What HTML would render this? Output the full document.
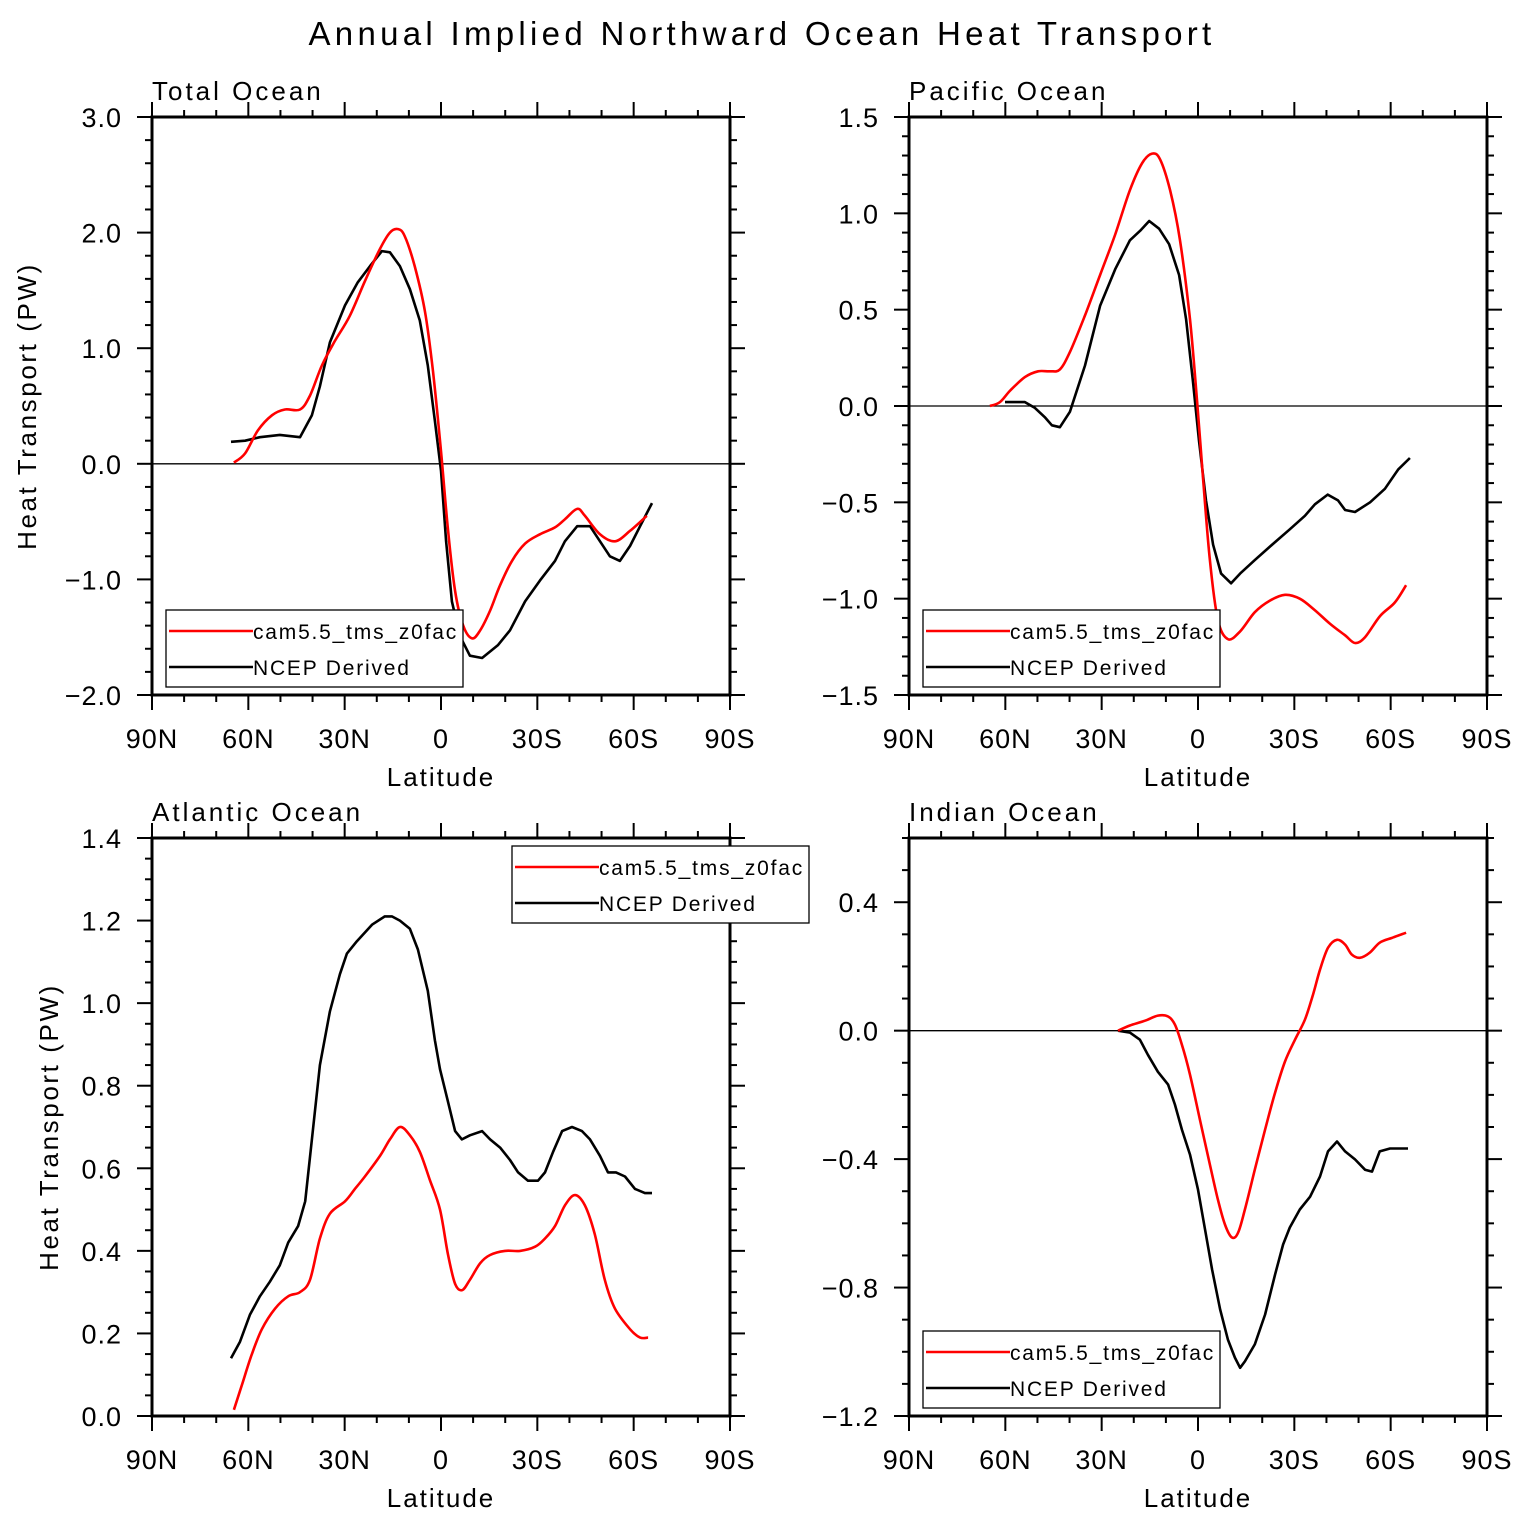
<!DOCTYPE html>
<html><head><meta charset="utf-8"><style>
body{margin:0;background:#fff}
svg{display:block;font-family:"Liberation Sans","DejaVu Sans",sans-serif}
</style></head><body>
<svg id="chart" width="1524" height="1527" viewBox="0 0 1524 1527" xmlns="http://www.w3.org/2000/svg">
<text x="762" y="45" text-anchor="middle" font-size="33" letter-spacing="4.3">Annual Implied Northward Ocean Heat Transport</text>
</svg>
<script>
// ---- data ----
const xTickLabels = ["90N","60N","30N","0","30S","60S","90S"];
const xTickLats = [90,60,30,0,-30,-60,-90];

const totalRedLat = [64.5,61.0,57.0,52.6,48.6,43.9,40.8,37.1,33.1,28.4,23.7,19.0,15.9,13.4,11.3,8.2,5.0,2.5,0,-2.2,-4.4,-6.9,-9.7,-12.2,-15.3,-18.4,-22.1,-26.2,-30.8,-35.5,-38.6,-42.4,-44.8,-49.5,-54.2,-58.9,-64.1];
const totalRedVal = [0.01,0.09,0.29,0.42,0.47,0.47,0.59,0.85,1.06,1.28,1.58,1.86,2.00,2.03,1.97,1.71,1.32,0.80,0.11,-0.58,-1.10,-1.40,-1.51,-1.44,-1.27,-1.05,-0.84,-0.69,-0.61,-0.55,-0.48,-0.39,-0.45,-0.61,-0.67,-0.58,-0.45];
const totalBlkLat = [65.4,61.0,56.4,50.2,43.9,40.2,37.7,34.6,29.9,25.9,22.1,18.4,15.9,12.8,9.7,6.6,4.1,1.9,0,-1.6,-3.4,-5.9,-9.0,-12.8,-17.7,-21.5,-26.2,-30.8,-35.5,-38.6,-42.4,-46.4,-49.5,-52.6,-55.7,-58.9,-62.0,-65.7];
const totalBlkVal = [0.19,0.20,0.23,0.25,0.23,0.42,0.67,1.05,1.37,1.57,1.71,1.84,1.83,1.71,1.51,1.24,0.85,0.37,-0.06,-0.67,-1.19,-1.49,-1.66,-1.68,-1.57,-1.44,-1.19,-1.01,-0.84,-0.67,-0.54,-0.54,-0.67,-0.80,-0.84,-0.71,-0.54,-0.34];

const pacRedLat = [64.8,61.7,58.5,53.9,49.8,46.1,43.0,39.9,35.2,30.5,25.8,21.2,17.4,14.3,11.8,8.7,5.6,2.5,0.3,-1.6,-3.7,-6.2,-9.3,-13.1,-17.7,-22.4,-27.1,-31.7,-36.4,-41.1,-45.8,-48.9,-52.0,-56.7,-61.3,-64.8];
const pacRedVal = [0,0.02,0.08,0.15,0.18,0.18,0.19,0.28,0.47,0.68,0.89,1.12,1.26,1.31,1.28,1.12,0.86,0.45,0.03,-0.38,-0.80,-1.11,-1.21,-1.17,-1.07,-1.01,-0.98,-1.00,-1.06,-1.13,-1.19,-1.23,-1.20,-1.09,-1.02,-0.93];
const pacBlkLat = [60.1,53.9,50.8,47.6,45.5,43.0,39.9,35.2,30.5,25.8,21.2,18.0,15.2,12.1,9.0,5.9,3.7,1.6,-0.3,-2.5,-4.7,-7.2,-10.3,-13.1,-17.7,-22.4,-28.6,-33.3,-36.4,-40.4,-43.6,-45.8,-48.9,-53.6,-58.2,-62.3,-66.0];
const pacBlkVal = [0.02,0.02,-0.01,-0.06,-0.10,-0.11,-0.03,0.21,0.52,0.71,0.86,0.91,0.96,0.92,0.84,0.68,0.45,0.13,-0.18,-0.49,-0.72,-0.87,-0.92,-0.87,-0.80,-0.73,-0.64,-0.57,-0.51,-0.46,-0.49,-0.54,-0.55,-0.50,-0.43,-0.33,-0.27];

const atlRedLat = [64.5,62.0,58.9,55.8,51.7,47.6,43.9,40.8,37.7,34.6,29.9,26.8,23.7,19.0,15.9,12.8,9.7,6.6,3.4,0.3,-2.2,-4.4,-6.6,-9.0,-12.2,-15.3,-19.9,-24.6,-29.3,-32.4,-35.5,-38.6,-41.7,-44.8,-47.9,-51.0,-54.2,-58.9,-62.0,-64.5];
const atlRedVal = [0.015,0.075,0.15,0.21,0.26,0.29,0.30,0.33,0.43,0.49,0.52,0.55,0.58,0.63,0.67,0.70,0.68,0.64,0.57,0.50,0.39,0.32,0.305,0.33,0.37,0.39,0.40,0.40,0.41,0.43,0.46,0.51,0.535,0.51,0.44,0.33,0.26,0.21,0.19,0.19];
const atlBlkLat = [65.4,62.6,59.5,56.4,53.3,50.2,47.6,44.5,42.3,40.2,37.7,34.6,31.5,29.3,26.2,21.5,17.5,15.3,12.8,9.7,7.2,4.1,1.9,0.3,-1.9,-4.4,-6.5,-9.0,-12.8,-15.3,-18.4,-21.5,-24.0,-27.1,-30.2,-32.4,-34.9,-37.7,-40.8,-43.9,-46.4,-49.5,-52.0,-54.5,-57.3,-60.4,-63.5,-65.7];
const atlBlkVal = [0.14,0.18,0.245,0.29,0.325,0.365,0.42,0.46,0.52,0.67,0.85,0.98,1.07,1.12,1.15,1.19,1.21,1.21,1.20,1.18,1.13,1.03,0.91,0.84,0.77,0.69,0.67,0.68,0.69,0.67,0.65,0.62,0.59,0.57,0.57,0.59,0.64,0.69,0.70,0.69,0.67,0.63,0.59,0.59,0.58,0.55,0.54,0.54];

const indRedLat = [24.9,21.2,16.5,12.5,9.3,7.2,5.0,2.5,-0.6,-3.7,-6.2,-8.4,-10.6,-12.5,-14.6,-17.7,-20.9,-24.0,-27.1,-30.2,-33.3,-35.8,-38.0,-40.5,-43.3,-45.8,-47.9,-50.4,-53.5,-56.6,-60.4,-64.8];
const indRedVal = [0,0.016,0.031,0.047,0.044,0.019,-0.044,-0.137,-0.277,-0.417,-0.526,-0.604,-0.644,-0.629,-0.557,-0.433,-0.308,-0.193,-0.096,-0.028,0.034,0.112,0.19,0.258,0.283,0.268,0.237,0.227,0.243,0.274,0.289,0.305];
const indBlkLat = [24.9,21.2,18.1,15.6,12.5,9.3,7.2,5.0,2.5,0,-2.2,-4.4,-6.9,-9.3,-11.5,-13.1,-14.6,-17.7,-20.9,-24.0,-26.5,-28.6,-31.7,-34.9,-38.0,-40.5,-43.3,-45.8,-48.9,-52.0,-54.2,-56.6,-59.8,-65.4];
const indBlkVal = [0,-0.006,-0.028,-0.075,-0.128,-0.168,-0.23,-0.308,-0.386,-0.495,-0.62,-0.744,-0.869,-0.962,-1.018,-1.05,-1.03,-0.977,-0.884,-0.759,-0.666,-0.613,-0.557,-0.517,-0.454,-0.376,-0.345,-0.376,-0.401,-0.433,-0.439,-0.376,-0.367,-0.367];

const totalYTicks = [3.0,2.0,1.0,0.0,-1.0,-2.0];
const totalYLabels = ["3.0","2.0","1.0","0.0","\u22121.0","\u22122.0"];
const pacYTicks = [1.5,1.0,0.5,0.0,-0.5,-1.0,-1.5];
const pacYLabels = ["1.5","1.0","0.5","0.0","\u22120.5","\u22121.0","\u22121.5"];
const atlYTicks = [1.4,1.2,1.0,0.8,0.6,0.4,0.2,0.0];
const atlYLabels = ["1.4","1.2","1.0","0.8","0.6","0.4","0.2","0.0"];
const indYTicks = [0.4,0.0,-0.4,-0.8,-1.2];
const indYLabels = ["0.4","0.0","\u22120.4","\u22120.8","\u22121.2"];

const legendLabels = ["cam5.5_tms_z0fac","NCEP Derived"];

// ---- drawing ----
const NS="http://www.w3.org/2000/svg";
const svg=document.getElementById('chart');
function mk(tag,attrs,parent){const e=document.createElementNS(NS,tag);for(const k in attrs)e.setAttribute(k,attrs[k]);(parent||svg).appendChild(e);return e;}

function smoothPath(P){
  let d='M'+P[0][0].toFixed(1)+','+P[0][1].toFixed(1);
  for(let i=0;i<P.length-1;i++){
    const p0=P[Math.max(0,i-1)],p1=P[i],p2=P[i+1],p3=P[Math.min(P.length-1,i+2)];
    const c1=[p1[0]+(p2[0]-p0[0])/6,p1[1]+(p2[1]-p0[1])/6];
    const c2=[p2[0]-(p3[0]-p1[0])/6,p2[1]-(p3[1]-p1[1])/6];
    d+=` C${c1[0].toFixed(1)},${c1[1].toFixed(1)} ${c2[0].toFixed(1)},${c2[1].toFixed(1)} ${p2[0].toFixed(1)},${p2[1].toFixed(1)}`;
  }
  return d;
}

function panel(p){
  const g=mk('g',{});
  
  
  const W=578,H=578,x0=p.x,y0=p.y;
  const xs=lat=>x0+(90-lat)/180*W;
  const ys=v=>y0+(p.ymax-v)/(p.ymax-p.ymin)*H;
  for(let lat=90;lat>=-90;lat-=10){
    const major=lat%30===0, X=xs(lat), L=major?15:7;
    const t1=mk('line',{x1:X,y1:y0,x2:X,y2:y0-L,stroke:'#000','stroke-width':2},g);
    
    
    const t2=mk('line',{x1:X,y1:y0+H,x2:X,y2:y0+H+L,stroke:'#000','stroke-width':2},g);
    
    
  }
  xTickLats.forEach((lat,i)=>{
    const t=mk('text',{x:xs(lat),y:y0+H+53,'text-anchor':'middle','font-size':27,'letter-spacing':1},g);
    t.textContent=xTickLabels[i];
    
    
  });
  const nMin=Math.round((p.ymax-p.ymin)/p.minor);
  for(let i=0;i<=nMin;i++){
    const v=p.ymin+i*p.minor, Y=ys(v);
    const isMaj=p.yTicks.some(t=>Math.abs(t-v)<1e-6), L=isMaj?15:7;
    const a=mk('line',{x1:x0,y1:Y,x2:x0-L,y2:Y,stroke:'#000','stroke-width':2},g);
    
    
    const b=mk('line',{x1:x0+W,y1:Y,x2:x0+W+L,y2:Y,stroke:'#000','stroke-width':2},g);
    
    
  }
  p.yTicks.forEach((v,i)=>{
    const t=mk('text',{x:x0-30,y:ys(v)+10,'text-anchor':'end','font-size':27,'letter-spacing':1},g);
    t.textContent=p.yLabels[i];
    
    
  });
  if(p.ymin<0&&p.ymax>0){
    const z=mk('line',{x1:x0,y1:ys(0),x2:x0+W,y2:ys(0),stroke:'#000','stroke-width':1.3},g);
    
    
  }
  const bl=mk('polyline',{points:p.blkLat.map((l,i)=>xs(l).toFixed(1)+','+ys(p.blkVal[i]).toFixed(1)).join(' '),fill:'none',stroke:'#000','stroke-width':2.6,'stroke-linejoin':'round'},g);
  
  
  const rl=mk('path',{d:smoothPath(p.redLat.map((l,i)=>[xs(l),ys(p.redVal[i])])),fill:'none',stroke:'#f00','stroke-width':2.6,'stroke-linejoin':'round'},g);
  
  
  const f=mk('rect',{x:x0,y:y0,width:W,height:H,fill:'none',stroke:'#000','stroke-width':3},g);
  
  
  const tt=mk('text',{x:x0,y:y0-17,'font-size':26,'letter-spacing':3},g);
  tt.textContent=p.title;
  
  
  const xt=mk('text',{x:x0+W/2,y:y0+H+91,'text-anchor':'middle','font-size':26,'letter-spacing':2},g);
  xt.textContent='Latitude';
  
  
  if(p.ytitleX){
    const yt=mk('text',{x:p.ytitleX,y:y0+H/2,'text-anchor':'middle','font-size':26,'letter-spacing':2.6,transform:`rotate(-90 ${p.ytitleX} ${y0+H/2})`},g);
    yt.textContent='Heat Transport (PW)';
    
    
  }
  const lg=mk('g',{},g);
  
  
  const lx=p.legX,ly=p.legY;
  mk('rect',{x:lx,y:ly,width:297,height:77,fill:'#fff',stroke:'#000','stroke-width':1.3},lg);
  [['#f00',legendLabels[0]],['#000',legendLabels[1]]].forEach((e,i)=>{
    const yy=ly+21+i*36;
    const ln=mk('line',{x1:lx+3,y1:yy,x2:lx+87,y2:yy,stroke:e[0],'stroke-width':2.6},lg);
    
    
    const t=mk('text',{x:lx+87,y:yy+8,'font-size':21,'letter-spacing':1.8},lg);
    t.textContent=e[1];
    
    
  });
}

panel({name:'total-ocean',title:'Total Ocean',x:152,y:117,ymin:-2,ymax:3,minor:0.2,yTicks:totalYTicks,yLabels:totalYLabels,redLat:totalRedLat,redVal:totalRedVal,blkLat:totalBlkLat,blkVal:totalBlkVal,legX:166,legY:610,ytitleX:36});
panel({name:'pacific-ocean',title:'Pacific Ocean',x:909,y:117,ymin:-1.5,ymax:1.5,minor:0.1,yTicks:pacYTicks,yLabels:pacYLabels,redLat:pacRedLat,redVal:pacRedVal,blkLat:pacBlkLat,blkVal:pacBlkVal,legX:923,legY:610});
panel({name:'atlantic-ocean',title:'Atlantic Ocean',x:152,y:838,ymin:0,ymax:1.4,minor:0.05,yTicks:atlYTicks,yLabels:atlYLabels,redLat:atlRedLat,redVal:atlRedVal,blkLat:atlBlkLat,blkVal:atlBlkVal,legX:512,legY:846,ytitleX:58});
panel({name:'indian-ocean',title:'Indian Ocean',x:909,y:838,ymin:-1.2,ymax:0.6,minor:0.1,yTicks:indYTicks,yLabels:indYLabels,redLat:indRedLat,redVal:indRedVal,blkLat:indBlkLat,blkVal:indBlkVal,legX:923,legY:1331});
</script>
</body></html>
